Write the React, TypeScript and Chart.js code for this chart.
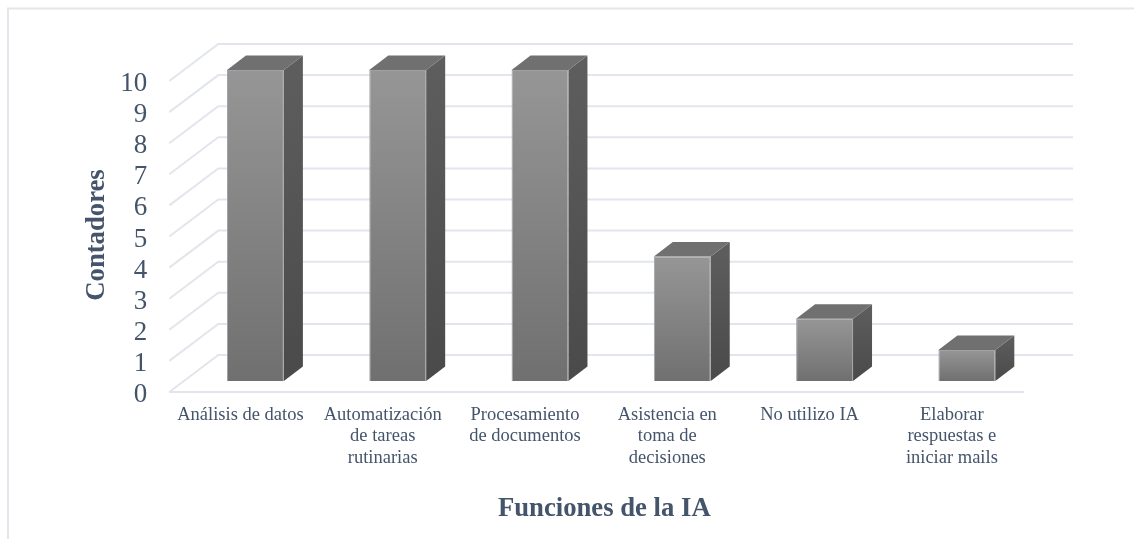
import React, { useEffect, useRef } from "react";
import { Chart, registerables } from "chart.js";

Chart.register(...registerables);

const categories = [
  ["Análisis de datos"],
  ["Automatización", "de tareas", "rutinarias"],
  ["Procesamiento", "de documentos"],
  ["Asistencia en", "toma de", "decisiones"],
  ["No utilizo IA"],
  ["Elaborar", "respuestas e", "iniciar mails"],
];
const counts = [10, 10, 10, 4, 2, 1];
const xTitle = "Funciones de la IA";
const yTitle = "Contadores";

const TEXT = "#44546a";
const GRID = "#e2e6ec";
const DEPTH_X = 19;
const DEPTH_Y = 14.5;
const TITLE_FONT = "bold 26.7px 'Liberation Serif'";

const poly = (c: CanvasRenderingContext2D, pts: number[][], fill: any) => {
  c.beginPath();
  pts.forEach((p, i) => (i ? c.lineTo(p[0], p[1]) : c.moveTo(p[0], p[1])));
  c.closePath();
  c.fillStyle = fill;
  c.fill();
};

const wallPlugin = {
  id: "wall3d",
  beforeDatasetsDraw(chart: any) {
    const c = chart.ctx as CanvasRenderingContext2D;
    const y = chart.scales.y;
    const ca = chart.chartArea;
    const frontX = ca.left - 15;
    const backX = ca.left + 34;
    const backRight = ca.right + 35;
    const floorRight = ca.right - 14;
    c.save();
    c.strokeStyle = GRID;
    c.lineWidth = 2;
    y.ticks.forEach((t: any) => {
      const py = y.getPixelForValue(t.value);
      c.beginPath();
      c.moveTo(frontX, py + 11);
      c.lineTo(backX, py - 26);
      c.lineTo(backRight, py - 26);
      c.stroke();
      if (t.value === 0) {
        c.beginPath();
        c.moveTo(frontX, py + 11);
        c.lineTo(floorRight, py + 11);
        c.stroke();
      }
    });
    c.restore();
  },
  afterDatasetsDraw(chart: any) {
    const c = chart.ctx as CanvasRenderingContext2D;
    const meta = chart.getDatasetMeta(0);
    c.save();
    meta.data.forEach((bar: any) => {
      const half = bar.width / 2;
      const l = bar.x - half;
      const r = bar.x + half;
      const t = bar.y;
      const b = bar.base;
      const side = c.createLinearGradient(0, t - DEPTH_Y, 0, b);
      side.addColorStop(0, "#5e5e5e");
      side.addColorStop(1, "#4a4a4a");
      poly(c, [[r, t], [r + DEPTH_X, t - DEPTH_Y], [r + DEPTH_X, b - DEPTH_Y], [r, b]], side);
      poly(c, [[l, t], [l + DEPTH_X, t - DEPTH_Y], [r + DEPTH_X, t - DEPTH_Y], [r, t]], "#707070");
    });
    c.restore();
  },
  afterDraw(chart: any) {
    const c = chart.ctx as CanvasRenderingContext2D;
    const ca = chart.chartArea;
    c.save();
    c.fillStyle = TEXT;
    c.font = TITLE_FONT;
    c.textAlign = "center";
    c.textBaseline = "middle";
    c.fillText(xTitle, ca.left + 420, ca.bottom + 128);
    c.translate(ca.left - 87, ca.top + 165);
    c.rotate(-Math.PI / 2);
    c.fillText(yTitle, 0, 0);
    c.restore();
  },
};

const frame = {
  id: "frame",
  beforeDraw(chart: any) {
    const c = chart.ctx as CanvasRenderingContext2D;
    c.save();
    c.strokeStyle = "#e3e6ea";
    c.lineWidth = 2;
    c.beginPath();
    c.moveTo(8, 539);
    c.lineTo(8, 8.5);
    c.lineTo(1134, 8.5);
    c.stroke();
    c.restore();
  },
};

export default function App() {
  const ref = useRef<HTMLCanvasElement>(null);
  useEffect(() => {
    const chart = new Chart(ref.current!, {
      type: "bar",
      data: {
        labels: categories,
        datasets: [
          {
            data: counts,
            barPercentage: 0.4,
            categoryPercentage: 1,
            borderWidth: 1,
            borderColor: "#9fa3a8",
            backgroundColor: (ctx: any) => {
              const s = ctx.chart.scales?.y;
              const v = counts[ctx.dataIndex];
              if (!s || v === undefined) return "#858585";
              const y0 = s.getPixelForValue(v);
              const y1 = s.getPixelForValue(0);
              if (!Number.isFinite(y0) || !Number.isFinite(y1)) return "#858585";
              const g = ctx.chart.ctx.createLinearGradient(0, y0, 0, y1);
              g.addColorStop(0, "#969696");
              g.addColorStop(1, "#707070");
              return g;
            },
          },
        ],
      },
      plugins: [frame, wallPlugin],
      options: {
        responsive: false,
        animation: false,
        layout: { padding: { left: 0, top: 70, right: 96, bottom: 0 } },
        plugins: { legend: { display: false }, tooltip: { enabled: false } },
        scales: {
          x: {
            grid: { display: false },
            border: { display: false },
            ticks: {
              color: TEXT,
              font: { family: "'Liberation Serif'", size: 18.5, lineHeight: 1.16 },
              maxRotation: 0,
              minRotation: 0,
              autoSkip: false,
              padding: 15,
              labelOffset: -15,
            },
            afterFit: (s: any) => {
              s.height = 158;
            },
          },
          y: {
            min: 0,
            max: 10,
            grid: { display: false },
            border: { display: false },
            ticks: {
              stepSize: 1,
              autoSkip: false,
              color: TEXT,
              font: { family: "'Liberation Serif'", size: 27 },
              padding: 29,
              labelOffset: 14,
            },
            afterFit: (s: any) => {
              s.width = 184.3;
            },
          },
        },
      },
    } as any);
    return () => chart.destroy();
  }, []);
  return (
    <div style={{ position: "absolute", left: 0, top: 0, width: 1134, height: 539, background: "#fff" }}>
      <canvas ref={ref} width={1134} height={539} style={{ display: "block" }} />
    </div>
  );
}
